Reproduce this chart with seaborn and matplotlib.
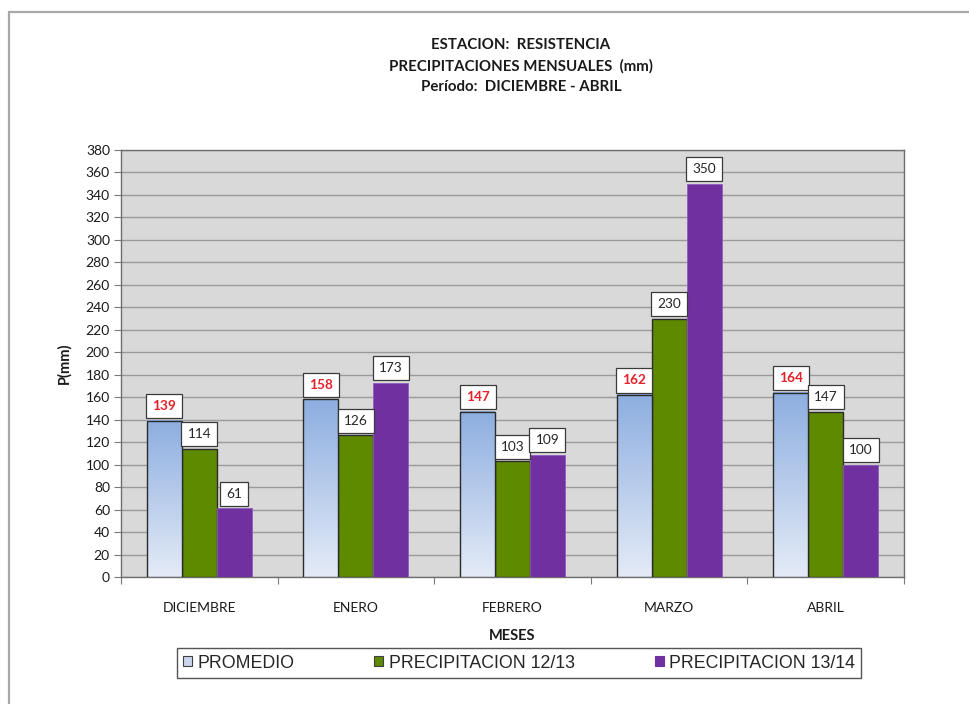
import numpy as np
import pandas as pd
import matplotlib
matplotlib.use("Agg")
import matplotlib.pyplot as plt
from matplotlib.colors import LinearSegmentedColormap
from matplotlib.lines import Line2D
from matplotlib.patches import Patch
import seaborn as sns

meses = ["DICIEMBRE", "ENERO", "FEBRERO", "MARZO", "ABRIL"]
series = ["PROMEDIO", "PRECIPITACION 12/13", "PRECIPITACION 13/14"]
promedio = [139, 158, 147, 162, 164]
prec_1213 = [114, 126, 103, 230, 147]
prec_1314 = [61, 173, 109, 350, 100]
yticks = list(range(0, 381, 20))

colors = ["#9DB9E4", "#5E8A00", "#7030A0"]

df = pd.DataFrame({
    "mes": meses * 3,
    "serie": [s for s in series for _ in meses],
    "valor": promedio + prec_1213 + prec_1314,
})

sns.set_theme(style="white")
plt.rcParams["font.family"] = ["Lato", "DejaVu Sans"]

fig = plt.figure(figsize=(9.69, 7.04), dpi=100)
ax = fig.add_axes([121 / 969, 127 / 704, 783 / 969, 427 / 704])

sns.barplot(data=df, x="mes", y="valor", hue="serie", order=meses,
            hue_order=series, palette=colors, width=0.67, gap=0,
            saturation=1, legend=False, ax=ax, zorder=3)

ax.set_facecolor("#D9D9D9")
ax.set_ylim(0, 380)
ax.set_xlim(-0.5, len(meses) - 0.5)
ax.set_yticks(yticks)
ax.yaxis.grid(True, color="#9A9A9A", linewidth=1.0, zorder=1)
ax.set_axisbelow(True)
for s in ax.spines.values():
    s.set_color("#6E6E6E")
    s.set_linewidth(1.0)

# vertical gradient for the average bars
grad_cmap = LinearSegmentedColormap.from_list("prom", ["#E4EBF7", "#8DAEE0"])
grad = np.linspace(0, 1, 256).reshape(-1, 1)
for bar in ax.containers[0]:
    x0, y0 = bar.get_x(), bar.get_y()
    w, h = bar.get_width(), bar.get_height()
    bar.set_facecolor("none")
    bar.set_edgecolor("#2B2B2B")
    bar.set_linewidth(1.0)
    bar.set_zorder(4)
    ax.imshow(grad, cmap=grad_cmap, origin="lower", aspect="auto",
              extent=[x0, x0 + w, y0, y0 + h], zorder=3,
              interpolation="bilinear")
for bar in ax.containers[1]:
    bar.set_edgecolor("#2B2B2B")
    bar.set_linewidth(1.0)
for bar in ax.containers[2]:
    bar.set_edgecolor("#8E5CC0")
    bar.set_linewidth(0.6)

# value labels in white boxes above each bar
for i, cont in enumerate(ax.containers):
    for bar, val in zip(cont, [promedio, prec_1213, prec_1314][i]):
        cx = bar.get_x() + bar.get_width() / 2
        ax.annotate(f"{val}", (cx, val), xytext=(0, 10.5), textcoords="offset points",
                    ha="center", va="center", fontsize=9.8,
                    color="#E3222B" if i == 0 else "#262626",
                    fontweight="bold" if i == 0 else "normal",
                    bbox=dict(boxstyle="square,pad=0.45", fc="white",
                              ec="#3A3A3A", lw=0.9),
                    zorder=6, annotation_clip=False)

ax.set_ylabel("P(mm)", fontsize=10.5, fontweight="bold", color="#1A1A1A", labelpad=10)
ax.set_xlabel("")
ax.tick_params(axis="y", which="major", left=True, length=5, width=0.8,
               color="#7A7A7A", labelsize=10, labelcolor="#1A1A1A", pad=3)
ax.tick_params(axis="x", which="major", bottom=False, labelsize=10,
               labelcolor="#1A1A1A", pad=12)
ax.set_xticks(range(len(meses)))
ax.set_xticklabels(meses)
ax.set_xticks(np.arange(-0.5, len(meses) + 0.5, 1), minor=True)
ax.tick_params(axis="x", which="minor", bottom=True, length=5, width=0.8,
               color="#7A7A7A")

fig.text(512 / 969, 1 - 636 / 704, "MESES", ha="center", va="center",
         fontsize=10.5, fontweight="bold", color="#1A1A1A")

title_x = 521 / 969
fig.text(title_x, 1 - 45 / 704, "ESTACION:  RESISTENCIA", ha="center", va="center",
         fontsize=10.8, fontweight="bold", color="#1A1A1A")
fig.text(title_x, 1 - 66 / 704, "PRECIPITACIONES MENSUALES  (mm)", ha="center",
         va="center", fontsize=10.8, fontweight="bold", color="#1A1A1A")
fig.text(title_x, 1 - 87 / 704, "Período:  DICIEMBRE - ABRIL", ha="center",
         va="center", fontsize=10.8, fontweight="bold", color="#1A1A1A")

handles = [Patch(facecolor="#C9D6EE", edgecolor="#404040", lw=0.8),
           Patch(facecolor=colors[1], edgecolor="#404040", lw=0.8),
           Patch(facecolor=colors[2], edgecolor=colors[2], lw=0.8)]
leg = fig.legend(handles, series, loc="center", ncol=3,
                 bbox_to_anchor=(519 / 969, 1 - 663 / 704),
                 frameon=True, fancybox=False,
                 handlelength=0.5, handleheight=0.5, handletextpad=0.3,
                 columnspacing=4.5, borderpad=0.35, borderaxespad=0,
                 prop={"family": ["Liberation Sans Narrow", "Liberation Sans", "DejaVu Sans"], "size": 12.8})
leg.get_frame().set_edgecolor("#2B2B2B")
leg.get_frame().set_linewidth(1.0)
for t in leg.get_texts():
    t.set_color("#262626")

# outer chart border (top and left)
fig.add_artist(Line2D([9 / 969, 1], [1 - 12 / 704, 1 - 12 / 704],
                      color="#A8A8A8", lw=1.6, transform=fig.transFigure))
fig.add_artist(Line2D([9 / 969, 9 / 969], [0, 1 - 12 / 704],
                      color="#A8A8A8", lw=1.6, transform=fig.transFigure))

fig.savefig("out.png", dpi=100, facecolor="white")
